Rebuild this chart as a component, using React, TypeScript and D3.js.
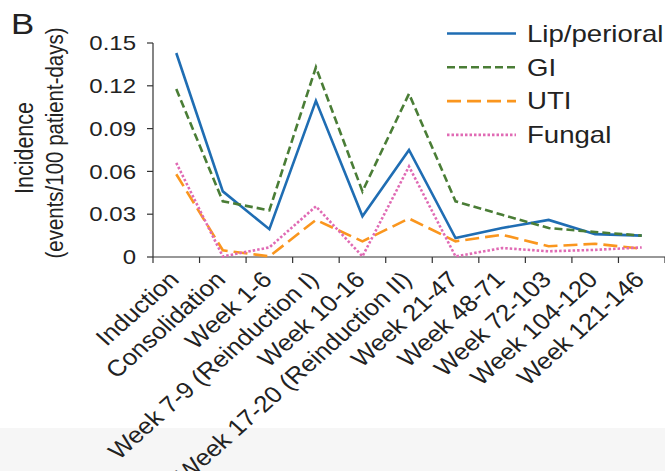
import React from 'react'
import * as d3 from 'd3'

// categories on the x axis
const periods = [
  'Induction',
  'Consolidation',
  'Week 1-6',
  'Week 7-9 (Reinduction I)',
  'Week 10-16',
  'Week 17-20 (Reinduction II)',
  'Week 21-47',
  'Week 48-71',
  'Week 72-103',
  'Week 104-120',
  'Week 121-146',
]

// incidence, events / 100 patient-days
const lipPerioral = [0.143, 0.046, 0.0195, 0.1095, 0.0285, 0.075, 0.0133, 0.0203, 0.026, 0.016, 0.015]
const gi = [0.1177, 0.039, 0.0327, 0.133, 0.046, 0.1144, 0.039, 0.0296, 0.0203, 0.0175, 0.015]
const uti = [0.058, 0.0047, 0.0004, 0.026, 0.011, 0.027, 0.011, 0.0156, 0.0075, 0.0093, 0.0058]
const fungal = [0.066, 0.0004, 0.0067, 0.0355, 0.0004, 0.0635, 0.0004, 0.0063, 0.004, 0.005, 0.0067]

const yTicks = [0, 0.03, 0.06, 0.09, 0.12, 0.15]

const series = [
  { name: 'Lip/perioral', values: lipPerioral, color: '#1f6db3', dash: null },
  { name: 'GI', values: gi, color: '#4a7d36', dash: '8,4' },
  { name: 'UTI', values: uti, color: '#fa961e', dash: '14,6' },
  { name: 'Fungal', values: fungal, color: '#e06ab4', dash: '2.5,2' },
]

const W = 665
const H = 471
// the source figure is stretched sideways, so text gets the same stretch
const SX = 1.2
const SX_LABEL = 1.12
const FONT = "'Liberation Sans', Arial, Helvetica, sans-serif"
const INK = '#222'

export default function App() {
  const x = d3.scaleBand<string>().domain(periods).range([153, 665]).padding(0)
  const y = d3.scaleLinear().domain([0, 0.15]).range([257, 43])
  const bw = x.bandwidth()
  const cx = (i: number) => (x(periods[i]) as number) + bw / 2

  const line = d3.line<number>()
    .x((_, i) => cx(i))
    .y(d => y(d))

  const fmt = (v: number) => (v === 0 ? '0' : d3.format('.2f')(v))
  const xTickPos = periods.map(p => x(p) as number).concat([x.range()[1]])

  return (
    <svg width={W} height={H} viewBox={`0 0 ${W} ${H}`}
      style={{ position: 'absolute', left: 0, top: 0, background: '#fff', fontFamily: FONT }}>
      <rect x={0} y={428} width={W} height={H - 428} fill="#f6f6f6" />

      <text transform={`translate(11,34) scale(${SX},1)`} fontSize={29} fill={INK}>B</text>

      {/* y axis title */}
      <text transform={`translate(33,148) scale(${SX},1) rotate(-90)`} textAnchor="middle"
        fontSize={21.5} fill={INK}>Incidence</text>
      <text transform={`translate(63,143) scale(${SX},1) rotate(-90)`} textAnchor="middle"
        fontSize={20.5} fill={INK}>(events/100 patient-days)</text>

      {/* y axis */}
      <line x1={153} x2={153} y1={y(0.15)} y2={y(0)} stroke="#333" strokeWidth={1.2} />
      {yTicks.map(t => (
        <g key={t}>
          <line x1={147} x2={153} y1={y(t)} y2={y(t)} stroke="#333" strokeWidth={1.2} />
          <text transform={`translate(136,${y(t)}) scale(${SX},1)`} dy="0.36em" textAnchor="end"
            fontSize={20} fill={INK}>{fmt(t)}</text>
        </g>
      ))}

      {/* x axis */}
      <line x1={153} x2={665} y1={y(0)} y2={y(0)} stroke="#333" strokeWidth={1.2} />
      {xTickPos.map((p, i) => (
        <line key={i} x1={p} x2={p} y1={y(0)} y2={y(0) + 6} stroke="#333" strokeWidth={1.2} />
      ))}
      {periods.map((p, i) => (
        <text key={p} transform={`translate(${cx(i) + 4},${y(0) + 24}) scale(${SX_LABEL},1) rotate(-45)`}
          textAnchor="end" fontSize={23} fill={INK}>{p}</text>
      ))}

      {/* lines */}
      {series.map(s => (
        <path key={s.name} d={line(s.values) as string} fill="none" stroke={s.color}
          strokeWidth={2.6} strokeDasharray={s.dash || undefined} strokeLinejoin="miter" />
      ))}

      {/* legend */}
      {series.map((s, i) => {
        const ly = 33.5 + i * 33.8
        return (
          <g key={s.name}>
            <line x1={447} x2={516} y1={ly} y2={ly} stroke={s.color} strokeWidth={2.6}
              strokeDasharray={s.dash || undefined} />
            <text transform={`translate(527,${ly}) scale(${SX},1)`} dy="0.36em" fontSize={23}
              fill={INK}>{s.name}</text>
          </g>
        )
      })}
    </svg>
  )
}
